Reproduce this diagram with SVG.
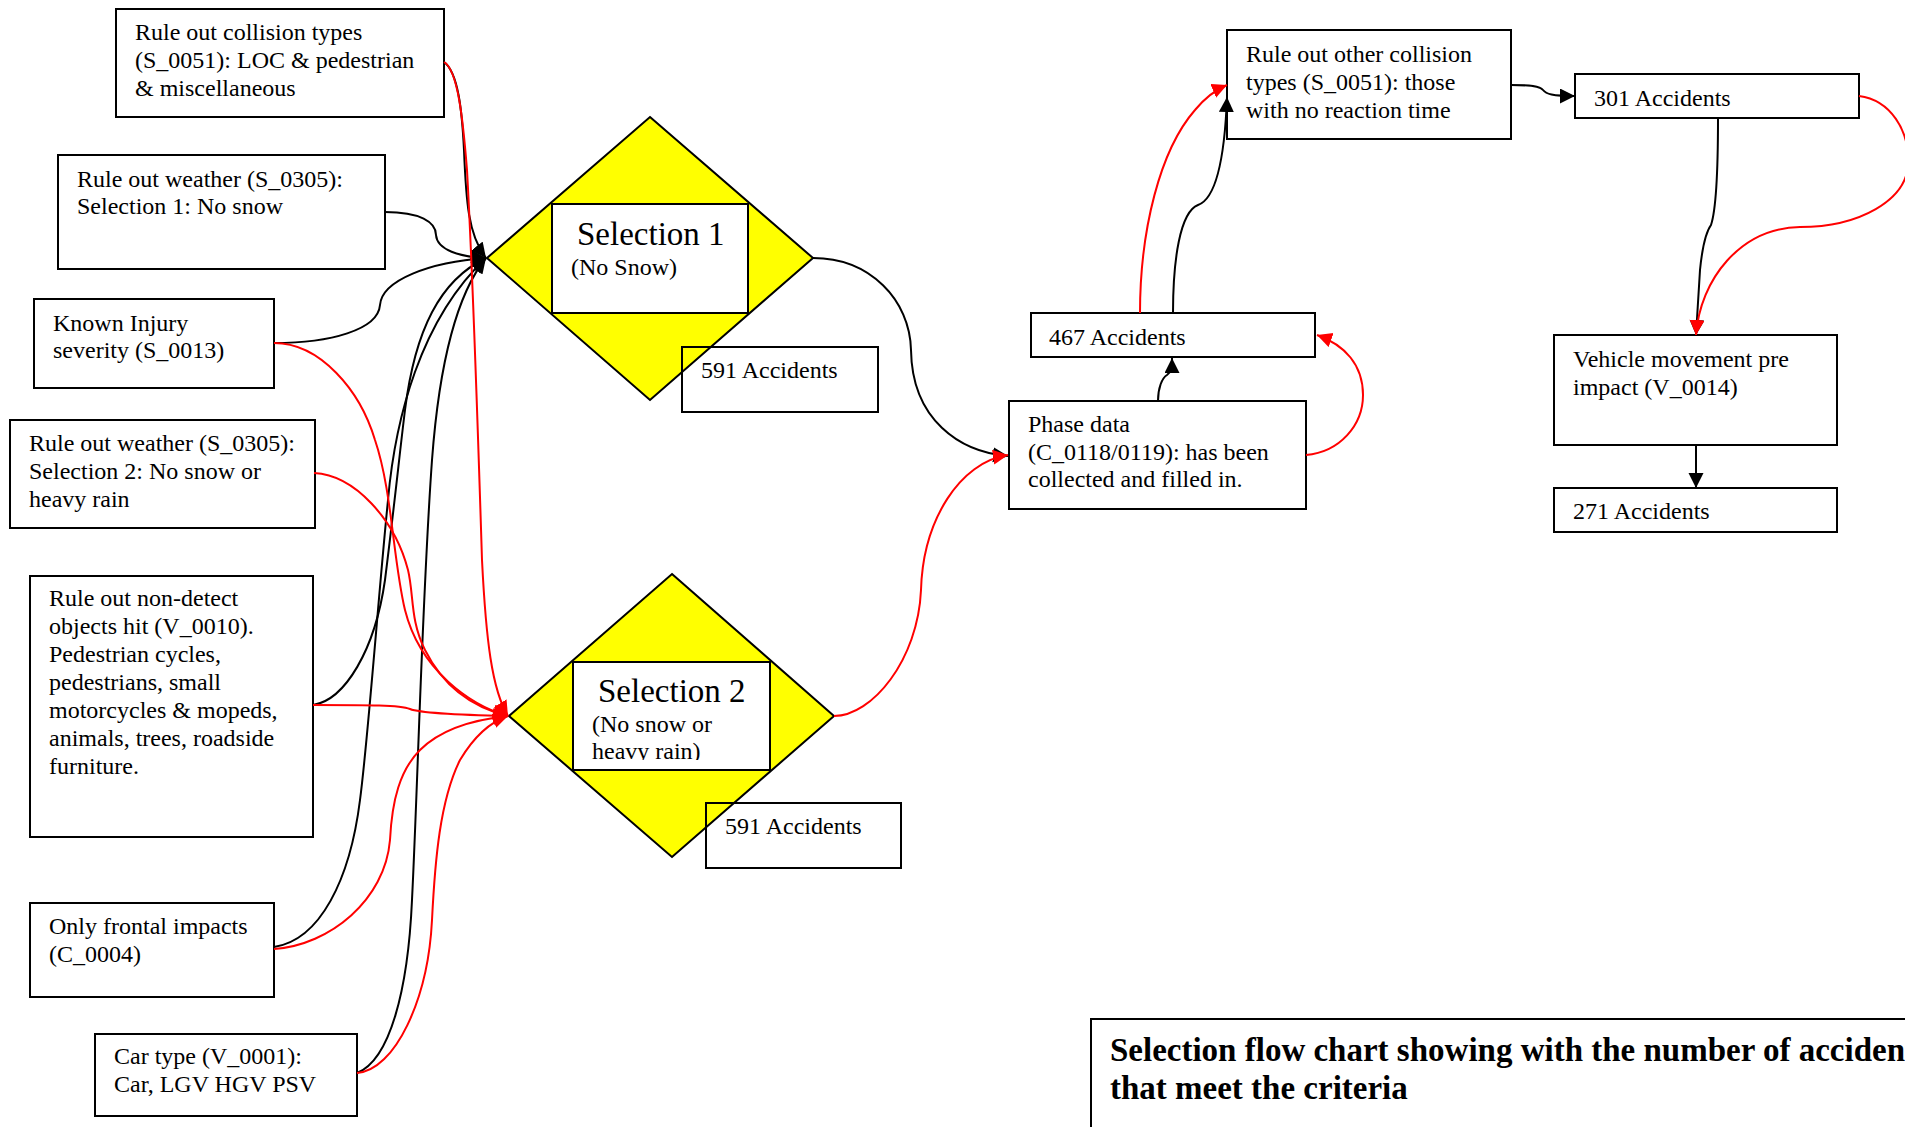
<svg xmlns="http://www.w3.org/2000/svg" width="1905" height="1127" viewBox="0 0 1905 1127">
<style>
.box{fill:#fff;stroke:#000;stroke-width:2}
.nb{fill:none;stroke:#000;stroke-width:2}
.dia{fill:#ffff00;stroke:#000;stroke-width:2}
.t{font-family:"Liberation Serif","Times New Roman",serif;font-size:24px;fill:#000}
.big{font-size:33px}
.ttl{font-family:"Liberation Serif","Times New Roman",serif;font-size:33px;font-weight:bold;fill:#000}
.cb{fill:none;stroke:#000;stroke-width:2;marker-end:url(#ab)}
.cr{fill:none;stroke:#ff0000;stroke-width:2;marker-end:url(#ar)}
</style>
<defs>
<marker id="ab" viewBox="0 0 16 16" markerWidth="16" markerHeight="16" refX="15" refY="7.5" orient="auto" markerUnits="userSpaceOnUse"><path d="M0,0 L15,7.5 L0,15 z" fill="#000"/></marker>
<marker id="ar" viewBox="0 0 16 16" markerWidth="16" markerHeight="16" refX="15" refY="7.5" orient="auto" markerUnits="userSpaceOnUse"><path d="M0,0 L15,7.5 L0,15 z" fill="#ff0000"/></marker>
<clipPath id="clip2"><rect x="574" y="663" width="195" height="97"/></clipPath>
<clipPath id="clipT"><rect x="1092" y="1020" width="813" height="107"/></clipPath>
</defs>
<rect width="1905" height="1127" fill="#fff"/>

<g id="n-collision"><rect class="box" x="116" y="9" width="328" height="108"/>
<text class="t" x="135" y="40">Rule out collision types</text>
<text class="t" x="135" y="68">(S_0051): LOC &amp; pedestrian</text>
<text class="t" x="135" y="96">&amp; miscellaneous</text></g>

<g id="n-weather1"><rect class="box" x="58" y="155" width="327" height="114"/>
<text class="t" x="77" y="187">Rule out weather (S_0305):</text>
<text class="t" x="77" y="214">Selection 1: No snow</text></g>

<g id="n-injury"><rect class="box" x="34" y="299" width="240" height="89"/>
<text class="t" x="53" y="331">Known Injury</text>
<text class="t" x="53" y="358">severity (S_0013)</text></g>

<g id="n-weather2"><rect class="box" x="10" y="420" width="305" height="108"/>
<text class="t" x="29" y="451">Rule out weather (S_0305):</text>
<text class="t" x="29" y="479">Selection 2: No snow or</text>
<text class="t" x="29" y="507">heavy rain</text></g>

<g id="n-nondetect"><rect class="box" x="30" y="576" width="283" height="261"/>
<text class="t" x="49" y="606">Rule out non-detect</text>
<text class="t" x="49" y="634">objects hit (V_0010).</text>
<text class="t" x="49" y="662">Pedestrian cycles,</text>
<text class="t" x="49" y="690">pedestrians, small</text>
<text class="t" x="49" y="718">motorcycles &amp; mopeds,</text>
<text class="t" x="49" y="746">animals, trees, roadside</text>
<text class="t" x="49" y="774">furniture.</text></g>

<g id="n-frontal"><rect class="box" x="30" y="903" width="244" height="94"/>
<text class="t" x="49" y="934">Only frontal impacts</text>
<text class="t" x="49" y="962">(C_0004)</text></g>

<g id="n-car"><rect class="box" x="95" y="1034" width="262" height="82"/>
<text class="t" x="114" y="1064">Car type (V_0001):</text>
<text class="t" x="114" y="1092">Car, LGV HGV PSV</text></g>

<g id="n-sel1"><polygon class="dia" points="650,117 813,258 650,400 487,258"/>
<rect class="box" x="552" y="204" width="196" height="109"/>
<text class="t big" x="577" y="245">Selection 1</text>
<text class="t" x="571" y="275">(No Snow)</text></g>

<g id="n-acc591a"><rect class="nb" x="682" y="347" width="196" height="65"/>
<text class="t" x="701" y="378">591 Accidents</text></g>

<g id="n-sel2"><polygon class="dia" points="672,574 834,716 672,857 509,716"/>
<rect class="box" x="573" y="662" width="197" height="108"/>
<text class="t big" x="598" y="702">Selection 2</text>
<g clip-path="url(#clip2)"><text class="t" x="592" y="732">(No snow or</text>
<text class="t" x="592" y="759">heavy rain)</text></g></g>

<g id="n-acc591b"><rect class="nb" x="706" y="803" width="195" height="65"/>
<text class="t" x="725" y="834">591 Accidents</text></g>

<g id="n-phase"><rect class="box" x="1009" y="401" width="297" height="108"/>
<text class="t" x="1028" y="432">Phase data</text>
<text class="t" x="1028" y="460">(C_0118/0119): has been</text>
<text class="t" x="1028" y="487">collected and filled in.</text></g>

<g id="n-acc467"><rect class="box" x="1031" y="313" width="284" height="44"/>
<text class="t" x="1049" y="345">467 Accidents</text></g>

<g id="n-other"><rect class="box" x="1227" y="30" width="284" height="109"/>
<text class="t" x="1246" y="62">Rule out other collision</text>
<text class="t" x="1246" y="90">types (S_0051): those</text>
<text class="t" x="1246" y="118">with no reaction time</text></g>

<g id="n-acc301"><rect class="box" x="1575" y="74" width="284" height="44"/>
<text class="t" x="1594" y="106">301 Accidents</text></g>

<g id="n-vehicle"><rect class="box" x="1554" y="335" width="283" height="110"/>
<text class="t" x="1573" y="367">Vehicle movement pre</text>
<text class="t" x="1573" y="395">impact (V_0014)</text></g>

<g id="n-acc271"><rect class="box" x="1554" y="488" width="283" height="44"/>
<text class="t" x="1573" y="519">271 Accidents</text></g>

<g id="n-title"><rect class="box" x="1091" y="1019" width="900" height="200"/>
<g clip-path="url(#clipT)"><text class="ttl" x="1110" y="1061">Selection flow chart showing with the number of accidents</text>
<text class="ttl" x="1110" y="1099">that meet the criteria</text></g></g>

<g id="connectors">
<path class="cb" d="M444,62 C458,72 462,110 464,150 C466,200 468,235 486,258"/>
<path class="cb" d="M385,212 C420,212 436,222 436,235 C437,250 460,257 486,258"/>
<path class="cb" d="M274,343 C330,343 378,330 380,305 C382,280 430,262 486,258"/>
<path class="cb" d="M313,705 C345,700 375,650 385,580 C395,500 400,450 405,410 C415,330 440,280 486,258"/>
<path class="cb" d="M274,947 C320,940 350,880 360,800 C368,740 378,600 388,500 C395,420 420,320 486,258"/>
<path class="cb" d="M357,1073 C390,1060 408,990 412,900 C418,780 422,600 432,460 C438,380 452,300 486,258"/>
<path class="cb" d="M813,258 C870,258 910,300 911,350 C912,420 960,452 1008,456"/>
<path class="cb" d="M1158,401 C1158,388 1162,378 1167,375 C1171,372 1172,368 1172,358"/>
<path class="cb" d="M1173,313 C1173,260 1180,212 1198,205 C1218,198 1225,150 1227,97"/>
<path class="cb" d="M1511,85 C1530,85 1540,86 1543,90 C1546,94 1552,96 1575,96"/>
<path class="cb" d="M1718,118 C1718,170 1716,210 1711,225 C1706,232 1702,250 1700,270 C1698,300 1697,320 1696,335"/>
<path class="cb" d="M1696,445 L1696,488"/>

<path class="cr" d="M444,62 C458,70 463,120 467,170 C472,260 477,400 482,560 C486,640 492,690 508,716"/>
<path class="cr" d="M274,343 C320,343 360,390 375,440 C392,490 393,560 405,610 C420,670 470,705 508,716"/>
<path class="cr" d="M314,473 C355,475 395,520 408,570 C414,595 410,620 425,650 C445,690 475,708 508,716"/>
<path class="cr" d="M313,705 C370,705 400,705 410,709 C420,713 460,715 508,716"/>
<path class="cr" d="M274,949 C330,945 385,900 390,840 C392,800 400,770 420,750 C440,730 470,720 508,716"/>
<path class="cr" d="M357,1073 C395,1070 428,1000 432,920 C435,860 440,800 460,760 C475,735 490,722 508,716"/>
<path class="cr" d="M834,716 C872,716 918,660 921,590 C923,520 960,462 1008,455"/>
<path class="cr" d="M1306,455 C1340,452 1363,425 1363,395 C1363,365 1345,345 1317,335"/>
<path class="cr" d="M1140,313 C1140,230 1160,150 1195,110 C1205,98 1215,90 1227,85"/>
<path class="cr" d="M1859,96 C1890,100 1910,130 1908,165 C1906,200 1860,227 1800,227 C1740,228 1700,280 1696,335"/>
</g>
</svg>
